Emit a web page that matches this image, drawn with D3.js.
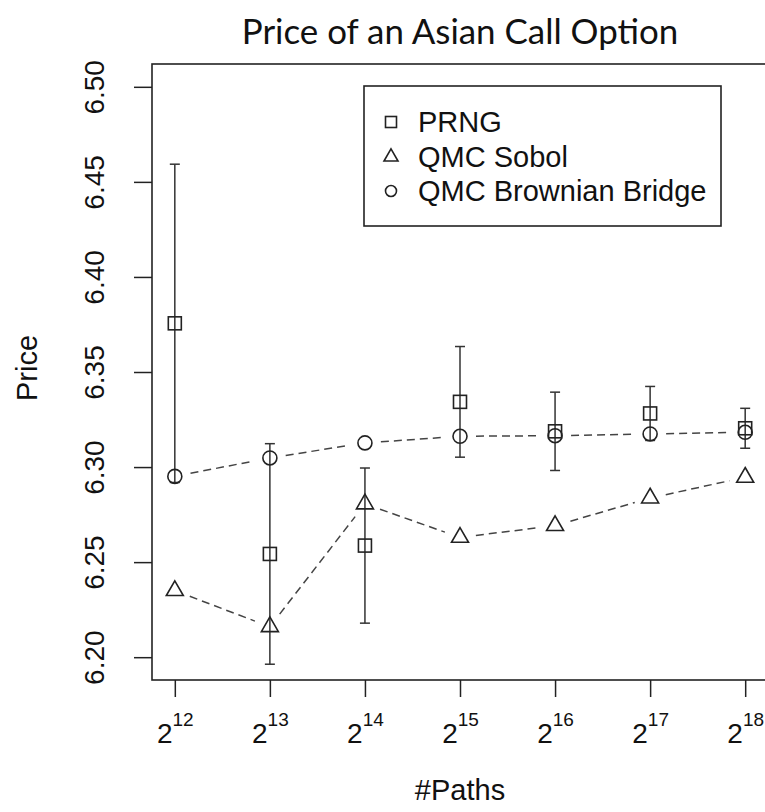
<!DOCTYPE html>
<html>
<head>
<meta charset="utf-8">
<script src="https://cdn.jsdelivr.net/npm/d3@7/dist/d3.min.js"></script>
<style>
  html, body { margin: 0; padding: 0; background: #fff; }
  svg text { font-family: "Liberation Sans", Arial, sans-serif; fill: #111; }
</style>
</head>
<body>
<div id="chart"></div>
<script>
// data
const exponents = [12, 13, 14, 15, 16, 17, 18];
const prngPrice = [6.3756, 6.2543, 6.2587, 6.3343, 6.3188, 6.3282, 6.3204];
const prngErr = [0.0837, 0.058, 0.0408, 0.0291, 0.0206, 0.0142, 0.0105];
const sobolPrice = [6.235, 6.216, 6.2806, 6.263, 6.2692, 6.2837, 6.2946];
const bridgePrice = [6.2951, 6.3048, 6.3127, 6.3162, 6.3165, 6.3174, 6.3183];
const yTicks = [6.2, 6.25, 6.3, 6.35, 6.4, 6.45, 6.5];
const legendLabels = ["PRNG", "QMC Sobol", "QMC Brownian Bridge"];

const width = 765, height = 812;
const plotLeft = 152, plotRight = 768, plotTop = 64, plotBottom = 680;
const ink = "#222";

const svg = d3.select("#chart").append("svg")
  .attr("width", width)
  .attr("height", height);

const x = d3.scaleLinear().domain([11.76, 18.24]).range([plotLeft, plotRight]);
const y = d3.scaleLinear().domain([6.188, 6.512]).range([plotBottom, plotTop]);

//symbol painters (centered on the point)
function square(g, cx, cy, s) {
  g.append("rect")
    .attr("x", cx - s / 2).attr("y", cy - s / 2)
    .attr("width", s).attr("height", s)
    .attr("fill", "none").attr("stroke", ink).attr("stroke-width", 1.6);
}
function triangle(g, cx, cy, w) {
  const h = w * 0.866;
  g.append("path")
    .attr("d", `M${cx},${cy - (2 * h) / 3}L${cx + w / 2},${cy + h / 3}L${cx - w / 2},${cy + h / 3}Z`)
    .attr("fill", "none").attr("stroke", ink).attr("stroke-width", 1.6);
}
function circle(g, cx, cy, r) {
  g.append("circle")
    .attr("cx", cx).attr("cy", cy).attr("r", r)
    .attr("fill", "none").attr("stroke", ink).attr("stroke-width", 1.6);
}

//title
const title = svg.append("text")
  .attr("x", (plotLeft + plotRight) / 2)
  .attr("y", 44)
  .attr("text-anchor", "middle")
  .style("font-family", "Lato, 'Open Sans', sans-serif")
  .style("font-size", "40px")
  .text("Price of an Asian Call Option");
//fit the title to its width in the picture
const tw = title.node().getComputedTextLength();
title.style("font-size", (40 * 436 / tw).toFixed(1) + "px");

//y axis
const yAxis = svg.append("g")
  .attr("transform", `translate(${plotLeft},0)`)
  .call(d3.axisLeft(y).tickValues(yTicks).tickSize(18).tickFormat(d3.format(".2f")));
yAxis.select(".domain").remove();
yAxis.selectAll(".tick line").attr("stroke", ink).attr("stroke-width", 1.5);
yAxis.selectAll(".tick text")
  .attr("x", 0).attr("dy", null).attr("y", 0)
  .attr("transform", "translate(-48,0) rotate(-90)")
  .attr("text-anchor", "middle")
  .style("font-size", "28px")
  .style("font-family", "'Liberation Sans', Arial, sans-serif")
  .attr("fill", "#111");

//x axis with powers of two
const xAxis = svg.append("g")
  .attr("transform", `translate(0,${plotBottom})`)
  .call(d3.axisBottom(x).tickValues(exponents).tickSize(17).tickFormat(""));
xAxis.select(".domain").remove();
xAxis.selectAll(".tick line").attr("stroke", ink).attr("stroke-width", 1.5);
xAxis.selectAll(".tick").each(function (d) {
  const t = d3.select(this).append("text")
    .attr("y", 63)
    .attr("text-anchor", "middle")
    .attr("fill", "#111");
  t.append("tspan").style("font-size", "28px").text("2");
  t.append("tspan").attr("dy", -17).style("font-size", "19px").text(d);
});

//axis titles
svg.append("text")
  .attr("x", (plotLeft + plotRight) / 2)
  .attr("y", 800)
  .attr("text-anchor", "middle")
  .style("font-size", "29px")
  .text("#Paths");

svg.append("text")
  .attr("transform", `translate(37,${(plotTop + plotBottom) / 2 - 4}) rotate(-90)`)
  .attr("text-anchor", "middle")
  .style("font-size", "29px")
  .text("Price");

//plot box
svg.append("rect")
  .attr("x", plotLeft).attr("y", plotTop)
  .attr("width", plotRight - plotLeft).attr("height", plotBottom - plotTop)
  .attr("fill", "none").attr("stroke", ink).attr("stroke-width", 1.6);

const plot = svg.append("g");

//dashed lines with gaps around the points (type = "b")
function gappedLine(values, gap) {
  for (let i = 0; i < values.length - 1; i++) {
    const x0 = x(exponents[i]), y0 = y(values[i]);
    const x1 = x(exponents[i + 1]), y1 = y(values[i + 1]);
    const len = Math.hypot(x1 - x0, y1 - y0);
    const ux = (x1 - x0) / len, uy = (y1 - y0) / len;
    plot.append("line")
      .attr("x1", x0 + ux * gap).attr("y1", y0 + uy * gap)
      .attr("x2", x1 - ux * gap).attr("y2", y1 - uy * gap)
      .attr("stroke", "#444").attr("stroke-width", 1.5)
      .attr("stroke-dasharray", "8,5");
  }
}
gappedLine(sobolPrice, 16);
gappedLine(bridgePrice, 16);

//error bars for PRNG
exponents.forEach((e, i) => {
  const cx = x(e);
  const hi = y(prngPrice[i] + prngErr[i]);
  const lo = y(prngPrice[i] - prngErr[i]);
  plot.append("line")
    .attr("x1", cx).attr("x2", cx).attr("y1", hi).attr("y2", lo)
    .attr("stroke", "#333").attr("stroke-width", 1.5);
  [hi, lo].forEach((yy) => {
    plot.append("line")
      .attr("x1", cx - 5).attr("x2", cx + 5).attr("y1", yy).attr("y2", yy)
      .attr("stroke", "#333").attr("stroke-width", 1.5);
  });
});

exponents.forEach((e, i) => {
  square(plot, x(e), y(prngPrice[i]), 13);
  triangle(plot, x(e), y(sobolPrice[i]), 17);
  circle(plot, x(e), y(bridgePrice[i]), 7);
});

//legend
const legend = svg.append("g");
legend.append("rect")
  .attr("x", 364).attr("y", 86)
  .attr("width", 357).attr("height", 140)
  .attr("fill", "#fff").attr("stroke", ink).attr("stroke-width", 1.6);
const rows = [122, 157, 191];
square(legend, 391, rows[0], 11);
triangle(legend, 391, rows[1], 14);
circle(legend, 391, rows[2], 5.5);
legendLabels.forEach((label, i) => {
  legend.append("text")
    .attr("x", 418)
    .attr("y", rows[i] + 10)
    .style("font-size", "29px")
    .text(label);
});
</script>
</body>
</html>
